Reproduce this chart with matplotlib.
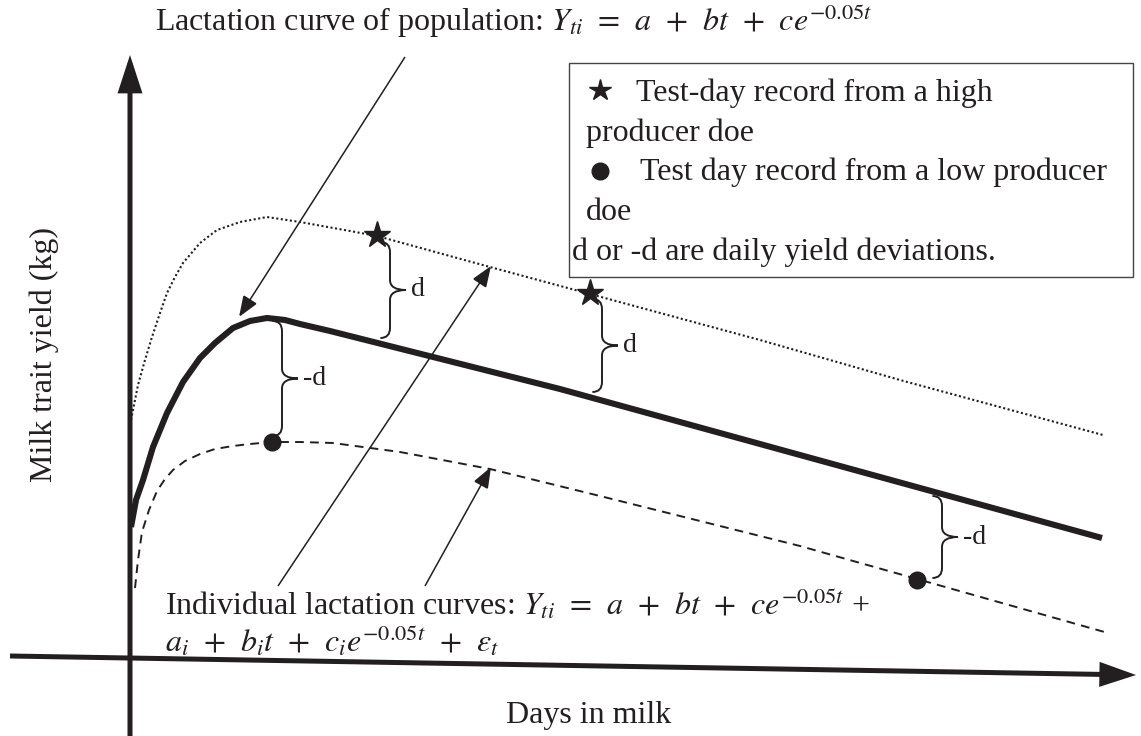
import matplotlib
matplotlib.use("Agg")
import matplotlib.pyplot as plt
from matplotlib.patches import FancyArrowPatch, Rectangle, PathPatch, ArrowStyle
from matplotlib.path import Path

plt.rcParams['font.family'] = ['Liberation Serif', 'DejaVu Serif']
plt.rcParams['mathtext.fontset'] = 'stix'

INK = '#231f20'

# ---- curve points (pixel coordinates, y downward) ----
pop_x = [131, 136, 143, 153, 167, 183, 200, 215, 233, 250, 267, 285, 300, 330, 560, 800, 1102]
pop_y = [527, 500, 480, 447, 413, 382, 358, 343, 328, 321, 318, 320, 324, 331, 389, 455, 538]

high_x = [131, 138, 145, 152, 160, 167, 175, 183, 200, 217, 240, 267, 300, 350, 377, 490, 590, 760, 900, 1103]
high_y = [420, 385, 360, 337, 313, 293, 277, 263, 243, 230, 222, 217, 222, 231, 236, 267, 294, 340, 380, 435]

low_x = [135, 138, 142, 149, 157, 165, 173, 185, 200, 215, 233, 250, 272, 300, 333, 400, 490, 600, 800, 917, 1108]
low_y = [588, 560, 532, 510, 491, 479, 470, 461, 454, 449, 446, 444, 442, 442, 443, 452, 469, 496, 546, 579, 633]

# test-day records
star_x = [377, 590]
star_y = [235, 293]
dot_x = [272, 917]
dot_y = [442, 580]

# deviation braces: (x, top, bottom, label)
brace_x = [390, 602, 282, 942]
brace_top = [242, 299, 321, 496]
brace_bot = [338, 392, 436, 578]
brace_lab = ['d', 'd', '-d', '-d']

fig = plt.figure(figsize=(11.41, 7.36), dpi=100)
ax = fig.add_axes([0, 0, 1, 1])
ax.set_xlim(0, 1141)
ax.set_ylim(736, 0)
ax.axis('off')

def arrow(p0, p1, lw, hl, hw, z=3):
    a = FancyArrowPatch(p0, p1, arrowstyle=ArrowStyle('-|>', head_length=hl, head_width=hw),
                        mutation_scale=1, lw=lw, color=INK, shrinkA=0, shrinkB=0,
                        joinstyle='miter', capstyle='butt', zorder=z)
    ax.add_patch(a)

# axes arrows
arrow((130, 736), (130, 55), 3.6, 20, 6.5)
arrow((10, 656), (1136, 675), 3.6, 19, 6.5)

# curves
ax.plot(pop_x, pop_y, color=INK, lw=4.4, solid_capstyle='butt', solid_joinstyle='round', zorder=4)
ax.plot(high_x, high_y, color=INK, lw=1.5, linestyle=(0, (1, 1.2)), zorder=4)
ax.plot(low_x, low_y, color=INK, lw=1.4, linestyle=(0, (4.5, 3.2)), zorder=4)

ax.plot(star_x, star_y, linestyle='none', marker='*', ms=20, color=INK, mec=INK, zorder=6)
ax.plot(dot_x, dot_y, linestyle='none', marker='o', ms=12, color=INK, mec=INK, zorder=6)

# braces
def brace(x, yt, yb, w=16, r=10):
    ym = (yt + yb) / 2
    verts = [(x - w * 0.6, yt), (x, yt), (x, yt + r),
             (x, ym - r), (x, ym), (x + w, ym),
             (x, ym), (x, ym + r),
             (x, yb - r), (x, yb), (x - w * 0.6, yb)]
    codes = [Path.MOVETO, Path.CURVE3, Path.CURVE3,
             Path.LINETO, Path.CURVE3, Path.CURVE3,
             Path.CURVE3, Path.CURVE3,
             Path.LINETO, Path.CURVE3, Path.CURVE3]
    ax.add_patch(PathPatch(Path(verts, codes), fill=False, lw=1.4, edgecolor=INK, zorder=5))

for bx, bt, bb, lab in zip(brace_x, brace_top, brace_bot, brace_lab):
    brace(bx, bt, bb)
    ax.text(bx + 21, (bt + bb) / 2, lab, fontsize=20, color=INK, ha='left', va='center')

# annotation arrows
arrow((405, 57), (239, 317), 1.1, 13, 5)
arrow((278, 586), (491, 266), 1.1, 13, 5)
arrow((425, 586), (491, 467), 1.1, 13, 5)

# texts
TS = 23
SP = r'\;\,'
eq_pop = r'$Y_{ti}' + SP + '=' + SP + 'a' + SP + '+' + SP + 'bt' + SP + '+' + SP + r'ce^{-0.05t}$'
eq_ind = r'$a_i' + SP + '+' + SP + 'b_it' + SP + '+' + SP + r'c_ie^{-0.05t}' + SP + '+' + SP + r'\varepsilon_t$'

ax.text(155, 21, 'Lactation curve of population: ' + eq_pop,
        fontsize=TS, color=INK, ha='left', va='center')
ax.text(165, 604, 'Individual lactation curves: ' + eq_pop + ' +',
        fontsize=TS, color=INK, ha='left', va='center')
ax.text(165, 641, eq_ind,
        fontsize=TS, color=INK, ha='left', va='center')
ax.text(589, 716, 'Days in milk', fontsize=TS, color=INK, ha='center', va='center')
ax.text(44, 354, 'Milk trait yield (kg)', fontsize=TS, color=INK, ha='center', va='center',
        rotation=90)

# legend box
ax.add_patch(Rectangle((569, 63), 564, 214, fill=False, lw=1.0, edgecolor='#444444', zorder=5))
ax.plot([600], [90], marker='*', ms=16, color=INK, linestyle='none')
ax.text(636, 93, 'Test-day record from a high', fontsize=TS, color=INK, ha='left', va='center')
ax.text(586, 133, 'producer doe', fontsize=TS, color=INK, ha='left', va='center')
ax.plot([600], [171], marker='o', ms=12, color=INK, linestyle='none')
ax.text(640, 172, 'Test day record from a low producer', fontsize=TS, color=INK, ha='left', va='center')
ax.text(586, 212, 'doe', fontsize=TS, color=INK, ha='left', va='center')
ax.text(572, 252, 'd or -d are daily yield deviations.', fontsize=TS, color=INK, ha='left', va='center')

fig.savefig('out.png', dpi=100, facecolor='white')
